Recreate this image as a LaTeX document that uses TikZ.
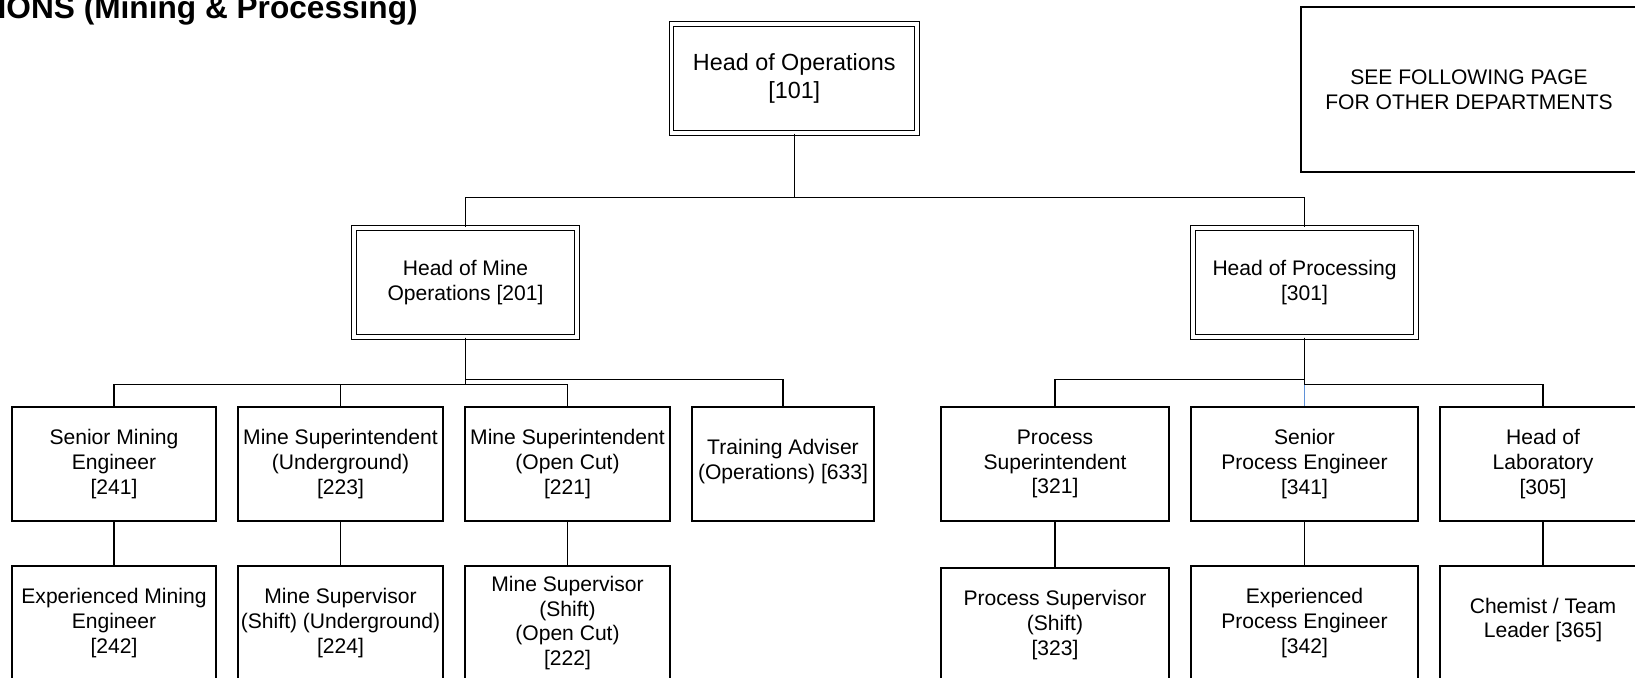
\documentclass[tikz,border=0pt]{standalone}
\usepackage{fontspec}
\setmainfont{Liberation Sans}
\usetikzlibrary{calc}

\definecolor{linkblue}{RGB}{95,145,215}

\tikzset{
  box/.style={draw, line width=0.7pt, inner sep=0pt, align=center,
    minimum height=2.28cm, font=\fontsize{12}{14}\selectfont},
  headbox/.style={draw, double, double distance=1.8pt, line width=0.65pt,
    inner sep=0pt, align=center, minimum height=2.18cm,
    font=\fontsize{12}{14.2}\selectfont},
  link/.style={line width=0.85pt},
  bluelink/.style={line width=0.7pt, draw=linkblue},
  title/.style={font=\fontsize{18}{20}\selectfont\bfseries, inner sep=0pt}
}

\begin{document}
\begin{tikzpicture}[x=0.02cm, y=-0.02cm]
  \useasboundingbox (0,0) rectangle (1635,678);

  \node[title, anchor=base east] (title) at (418,19) {IONS (Mining \& Processing)};

  \node[box, minimum width=6.72cm, minimum height=3.3cm] (seepage) at (1469,89.5)
    {SEE FOLLOWING PAGE\\FOR OTHER DEPARTMENTS};

  \node[headbox, minimum width=4.91cm, font=\fontsize{13.3}{16}\selectfont] (ops) at (794.25,78.5)
    {Head of Operations\\{[}101{]}};

  \node[headbox, minimum width=4.46cm] (mine) at (465.5,282.5) {Head of Mine\\Operations {[}201{]}};
  \node[headbox, minimum width=4.46cm] (proc) at (1304.5,282.5) {Head of Processing\\{[}301{]}};

  \node[box, minimum width=4.08cm] (sme) at (114,464) {Senior Mining\\Engineer\\{[}241{]}};
  \node[box, minimum width=4.1cm] (msu) at (340.5,464) {Mine Superintendent\\(Underground)\\{[}223{]}};
  \node[box, minimum width=4.1cm] (mso) at (567.5,464) {Mine Superintendent\\(Open Cut)\\{[}221{]}};
  \node[box, minimum width=3.64cm] (ta) at (783,464) {Training Adviser\\(Operations) {[}633{]}\\[-9pt]};
  \node[box, minimum width=4.56cm] (ps) at (1055,464) {Process\\Superintendent\\{[}321{]}};
  \node[box, minimum width=4.54cm] (spe) at (1304.5,464) {Senior\\Process Engineer\\{[}341{]}};
  \node[box, minimum width=4.12cm] (hol) at (1543,464) {Head of\\Laboratory\\{[}305{]}};

  \node[box, minimum width=4.08cm] (eme) at (114,623) {Experienced Mining\\Engineer\\{[}242{]}};
  \node[box, minimum width=4.1cm] (msuu) at (340.5,623) {Mine Supervisor\\(Shift) (Underground)\\{[}224{]}};
  \node[box, minimum width=4.1cm] (msoc) at (567.5,623) {Mine Supervisor\\(Shift)\\(Open Cut)\\{[}222{]}};
  \node[box, minimum width=4.56cm] (psup) at (1055,625) {Process Supervisor\\(Shift)\\{[}323{]}};
  \node[box, minimum width=4.54cm] (epe) at (1304.5,623) {Experienced\\Process Engineer\\{[}342{]}};
  \node[box, minimum width=4.12cm] (ctl) at (1543,623) {Chemist / Team\\Leader {[}365{]}\\[-8pt]};

  \draw[link] (ops.south) -- ++(0,64) coordinate (opsbus) -| (mine.north);
  \draw[link] (opsbus) -| (proc.north);

  \draw[link] (mine.south) -- ++(0,42) coordinate (minebusA) -| (ta.north);
  \draw[link] (mine.south) -- ++(0,47) coordinate (minebusB) -| (sme.north);
  \draw[link] (minebusB) -| (msu.north);
  \draw[link] (minebusB) -| (mso.north);

  \draw[link] (proc.south) -- ++(0,42) coordinate (procbusA) -| (ps.north);
  \draw[link] (proc.south) -- ++(0,47) coordinate (procbusB) -| (hol.north);
  \draw[bluelink] (procbusB) -- (spe.north);

  \draw[link] (sme) -- (eme);
  \draw[link] (msu) -- (msuu);
  \draw[link] (mso) -- (msoc);
  \draw[link] (ps) -- (psup);
  \draw[link] (spe) -- (epe);
  \draw[link] (hol) -- (ctl);
\end{tikzpicture}
\end{document}
